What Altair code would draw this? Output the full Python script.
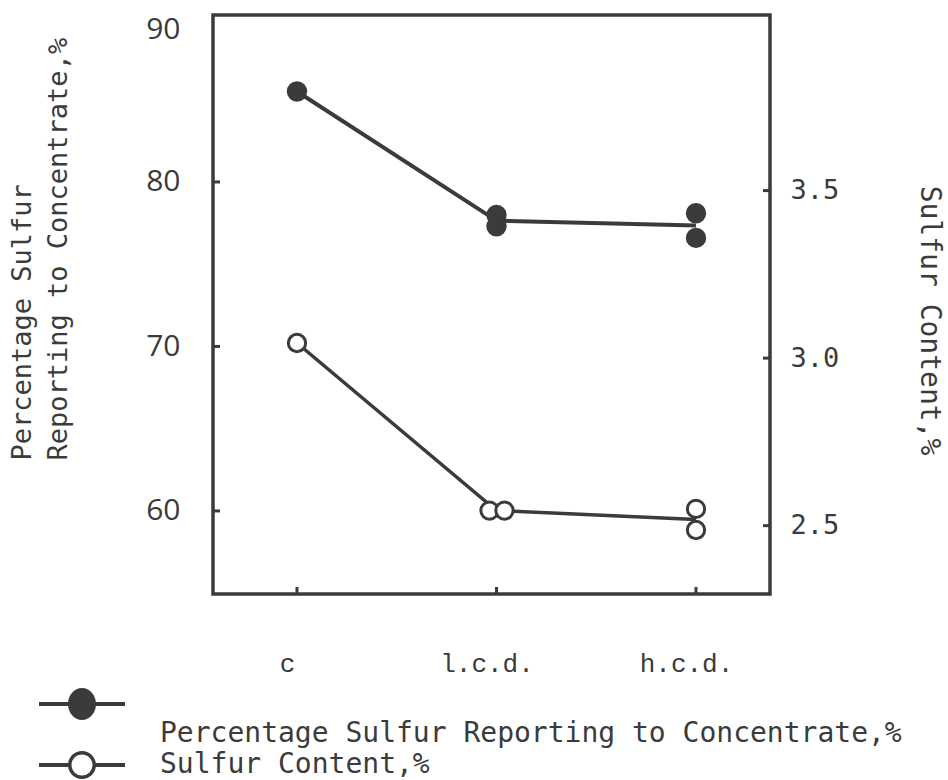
import json
import altair as alt
import pandas as pd

# ---------------- data ----------------
categories = ["c", "l.c.d.", "h.c.d."]

series_rec = "Percentage Sulfur Reporting to Concentrate,%"
series_sc = "Sulfur Content,%"

# Percentage sulfur reporting to concentrate (left axis), replicate readings
rec_cat = ["c", "l.c.d.", "l.c.d.", "h.c.d.", "h.c.d."]
rec_val = [85.5, 78.0, 77.3, 78.1, 76.6]
rec_rep = [0.0, 0.0, 0.0, 0.0, 0.0]          # side-by-side replicate offset (category units)

# Sulfur content (right axis), replicate readings
sc_cat = ["c", "l.c.d.", "l.c.d.", "h.c.d.", "h.c.d."]
sc_val = [3.045, 2.545, 2.545, 2.55, 2.487]
sc_rep = [0.0, -0.035, 0.04, 0.0, 0.0]

left_tick_labels = [60, 70, 80, 90]
left_tick_marks = [60, 70, 80]
right_tick_labels = [2.5, 3.0, 3.5]

# ---------------- layout / style ----------------
W, H = 557, 579
INK = "#3b3b3b"
MONO = "DejaVu Sans Mono"


def frame(cats, vals, reps):
    idx = [categories.index(c) for c in cats]
    return pd.DataFrame({
        "cat": cats,
        "idx": idx,
        "pos": [i + r for i, r in zip(idx, reps)],
        "value": vals,
    })


rec_df = frame(rec_cat, rec_val, rec_rep)
sc_df = frame(sc_cat, sc_val, sc_rep)

label_expr = json.dumps(categories) + "[datum.value]"
x_scale = alt.Scale(domain=[-0.421, 2.371], nice=False, zero=False)
x_axis = alt.Axis(
    values=[0, 1, 2], labelExpr=label_expr, grid=False, domain=False, ticks=False,
    labelFont="Liberation Mono", labelFontSize=26, labelColor=INK, labelPadding=56,
    labelOffset=-10,
)


def xenc(field):
    return alt.X(f"{field}:Q", scale=x_scale, axis=x_axis, title=None)


yl_scale = alt.Scale(domain=[54.95, 90.15], nice=False, zero=False)
yl_axis = alt.Axis(
    orient="left", values=left_tick_labels, grid=False, domain=False, ticks=False,
    labelFont="Open Sans", labelFontSize=30, labelColor=INK, labelPadding=33,
    labelOffset={"condition": {"test": "datum.value == 90", "value": 12}, "value": 0},
    title=["Percentage Sulfur", "Reporting to Concentrate,%"],
    titleFont=MONO, titleFontSize=27, titleFontWeight="normal", titleColor=INK,
    titleAngle=270, titleAlign="left", titleBaseline="middle",
    titleX=-191, titleY=445, titleLineHeight=36,
)
yr_scale = alt.Scale(domain=[2.296, 4.024], nice=False, zero=False)
yr_axis = alt.Axis(
    orient="right", values=right_tick_labels, format=".1f", grid=False, domain=False,
    ticks=False, labelFont=MONO, labelFontSize=27, labelColor=INK, labelPadding=20,
    title="Sulfur Content,%",
    titleFont=MONO, titleFontSize=28, titleFontWeight="normal", titleColor=INK,
    titleAngle=90, titleAlign="center", titleBaseline="middle",
    titleX=158, titleY=305,
)

yl = alt.Y("value:Q", scale=yl_scale, axis=yl_axis)
yr = alt.Y("value:Q", scale=yr_scale, axis=yr_axis)

# ---------------- left (filled) series ----------------
rec_line = alt.Chart(rec_df).mark_line(color=INK, strokeWidth=4).encode(
    x=xenc("idx"), y=alt.Y("mean(value):Q", scale=yl_scale, axis=yl_axis)
)
rec_pts = alt.Chart(rec_df).mark_point(
    filled=True, shape="circle", color=INK, size=415, opacity=1
).encode(x=xenc("pos"), y=yl)

left_ticks = alt.Chart(pd.DataFrame({"value": left_tick_marks})).mark_rule(
    color=INK, strokeWidth=3
).encode(y=yl, x=alt.value(0), x2=alt.value(7))

bottom_ticks = alt.Chart(pd.DataFrame({"idx": list(range(len(categories)))})).mark_rule(
    color=INK, strokeWidth=3
).encode(x=xenc("idx"), y=alt.value(H - 7), y2=alt.value(H))

# legend-only layer: custom filled symbols (circle with line stubs); symbol unit = 14 px
filled_sym = (
    "M-3.07,-2.28 L3.07,-2.28 L3.07,-2.0 L-3.07,-2.0 Z "
    "M1,-2.14 A1,1.14 0 1,1 -1,-2.14 A1,1.14 0 1,1 1,-2.14 Z"
)
open_sym = (
    "M-3.07,-0.14 L-0.95,-0.14 L-0.95,0.14 L-3.07,0.14 Z "
    "M0.95,-0.14 L3.07,-0.14 L3.07,0.14 L0.95,0.14 Z "
    "M1,0 A1,1 0 1,1 -1,0 A1,1 0 1,1 1,0 Z "
    "M0.75,0 A0.75,0.75 0 1,0 -0.75,0 A0.75,0.75 0 1,0 0.75,0 Z"
)
leg = alt.Legend(
    title=None, orient="none", legendX=-145, legendY=705,
    symbolSize=784, symbolStrokeWidth=0, symbolFillColor=INK, symbolOpacity=1,
    labelFont=MONO, labelFontSize=28, labelColor=INK, labelOffset=64, rowPadding=3,
    labelLimit=900,
)
legend_layer = alt.Chart(pd.DataFrame({"series": [series_rec, series_sc]})).mark_point(
    filled=True, opacity=0, color=INK
).encode(
    shape=alt.Shape("series:N", scale=alt.Scale(domain=[series_rec, series_sc],
                                                range=[filled_sym, open_sym]), legend=leg),
)

left_group = alt.layer(rec_line, rec_pts, left_ticks, bottom_ticks, legend_layer)

# ---------------- right (open) series ----------------
sc_line = alt.Chart(sc_df).mark_line(color=INK, strokeWidth=3.5).encode(
    x=xenc("idx"), y=alt.Y("mean(value):Q", scale=yr_scale, axis=yr_axis)
)
sc_pts = alt.Chart(sc_df).mark_point(
    filled=True, shape="circle", fill="white", stroke=INK, strokeWidth=3,
    size=300, opacity=1
).encode(x=xenc("pos"), y=yr)

right_ticks = alt.Chart(pd.DataFrame({"value": right_tick_labels})).mark_rule(
    color=INK, strokeWidth=3
).encode(y=yr, x=alt.value(W - 7), x2=alt.value(W))

right_group = alt.layer(sc_line, sc_pts, right_ticks)

chart = alt.layer(left_group, right_group).resolve_scale(y="independent").properties(
    width=W, height=H,
    autosize=alt.AutoSizeParams(type="none"),
    padding={"left": 213, "top": 15, "right": 948 - 213 - W, "bottom": 780 - 15 - H},
    background="white",
).configure_view(stroke=INK, strokeWidth=3.5)

chart.save("out.html", embed_options={"renderer": "svg", "actions": False})
